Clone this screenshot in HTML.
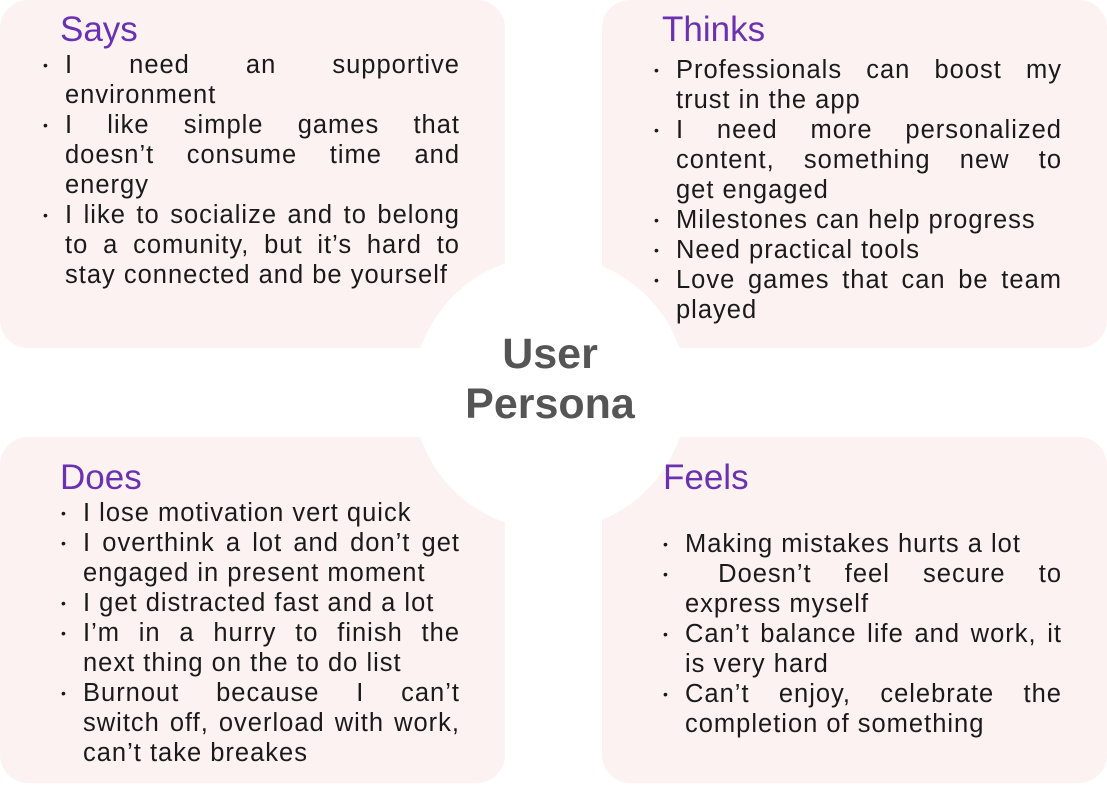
<!DOCTYPE html>
<html><head><style>
body{margin:0;width:1107px;height:785px;background:#fff;position:relative;overflow:hidden;font-family:"Liberation Sans",sans-serif;color:#1a1a1a}
.box{position:absolute;background:#fdf2f2;border-radius:28px}
.t{position:absolute;font-size:35px;color:#6a32b2;line-height:1}
.l{position:absolute;font-size:25.5px;line-height:30px;height:30px;white-space:nowrap;letter-spacing:1px}
.j{text-align:justify;text-align-last:justify;white-space:normal}
.b{position:absolute;font-size:14px;line-height:30px}
.c{position:absolute;left:413px;top:256px;width:274px;height:274px;border-radius:50%;background:#fff}
.ct{position:absolute;left:403px;width:294px;text-align:center;font-weight:bold;font-size:43px;color:#555}
</style></head><body>
<div class="box" style="left:0;top:0;width:505px;height:348px"></div>
<div class="box" style="left:602px;top:0;width:505px;height:348px"></div>
<div class="box" style="left:0;top:437px;width:505px;height:346px"></div>
<div class="box" style="left:602px;top:437px;width:505px;height:346px"></div>
<div class="c"></div>
<div class="ct" style="top:330px">User</div>
<div class="ct" style="top:380px">Persona</div>

<div class="t" style="left:60px;top:12px">Says</div>
<div class="t" style="left:662px;top:12px">Thinks</div>
<div class="t" style="left:60px;top:460px">Does</div>
<div class="t" style="left:663px;top:460px">Feels</div>

<!-- Says -->
<div class="b" style="left:43px;top:50px">•</div>
<div class="l j" style="left:65px;top:50px;width:395px">I need an supportive</div>
<div class="l" style="left:65px;top:80px">environment</div>
<div class="b" style="left:43px;top:110px">•</div>
<div class="l j" style="left:65px;top:110px;width:395px">I like simple games that</div>
<div class="l j" style="left:65px;top:140px;width:395px">doesn’t consume time and</div>
<div class="l" style="left:65px;top:170px">energy</div>
<div class="b" style="left:43px;top:200px">•</div>
<div class="l j" style="left:65px;top:200px;width:395px">I like to socialize and to belong</div>
<div class="l j" style="left:65px;top:230px;width:395px">to a comunity, but it’s hard to</div>
<div class="l" style="left:65px;top:260px">stay connected and be yourself</div>

<!-- Thinks -->
<div class="b" style="left:654px;top:55px">•</div>
<div class="l j" style="left:676px;top:55px;width:386px">Professionals can boost my</div>
<div class="l" style="left:676px;top:85px">trust in the app</div>
<div class="b" style="left:654px;top:115px">•</div>
<div class="l j" style="left:676px;top:115px;width:386px">I need more personalized</div>
<div class="l j" style="left:676px;top:145px;width:386px">content, something new to</div>
<div class="l" style="left:676px;top:175px">get engaged</div>
<div class="b" style="left:654px;top:205px">•</div>
<div class="l" style="left:676px;top:205px">Milestones can help progress</div>
<div class="b" style="left:654px;top:235px">•</div>
<div class="l" style="left:676px;top:235px">Need practical tools</div>
<div class="b" style="left:654px;top:265px">•</div>
<div class="l j" style="left:676px;top:265px;width:386px">Love games that can be team</div>
<div class="l" style="left:676px;top:295px">played</div>

<!-- Does -->
<div class="b" style="left:61px;top:498px">•</div>
<div class="l" style="left:83px;top:498px">I lose motivation vert quick</div>
<div class="b" style="left:61px;top:528px">•</div>
<div class="l j" style="left:83px;top:528px;width:377px">I overthink a lot and don’t get</div>
<div class="l" style="left:83px;top:558px">engaged in present moment</div>
<div class="b" style="left:61px;top:588px">•</div>
<div class="l" style="left:83px;top:588px">I get distracted fast and a lot</div>
<div class="b" style="left:61px;top:618px">•</div>
<div class="l j" style="left:83px;top:618px;width:377px">I’m in a hurry to finish the</div>
<div class="l" style="left:83px;top:648px">next thing on the to do list</div>
<div class="b" style="left:61px;top:678px">•</div>
<div class="l j" style="left:83px;top:678px;width:377px">Burnout because I can’t</div>
<div class="l j" style="left:83px;top:708px;width:377px">switch off, overload with work,</div>
<div class="l" style="left:83px;top:738px">can’t take breakes</div>

<!-- Feels -->
<div class="b" style="left:663px;top:529px">•</div>
<div class="l" style="left:685px;top:529px">Making mistakes hurts a lot</div>
<div class="b" style="left:663px;top:559px">•</div>
<div class="l j" style="left:685px;top:559px;width:377px">&nbsp;Doesn’t feel secure to</div>
<div class="l" style="left:685px;top:589px">express myself</div>
<div class="b" style="left:663px;top:619px">•</div>
<div class="l j" style="left:685px;top:619px;width:377px">Can’t balance life and work, it</div>
<div class="l" style="left:685px;top:649px">is very hard</div>
<div class="b" style="left:663px;top:679px">•</div>
<div class="l j" style="left:685px;top:679px;width:377px">Can’t enjoy, celebrate the</div>
<div class="l" style="left:685px;top:709px">completion of something</div>
</body></html>
